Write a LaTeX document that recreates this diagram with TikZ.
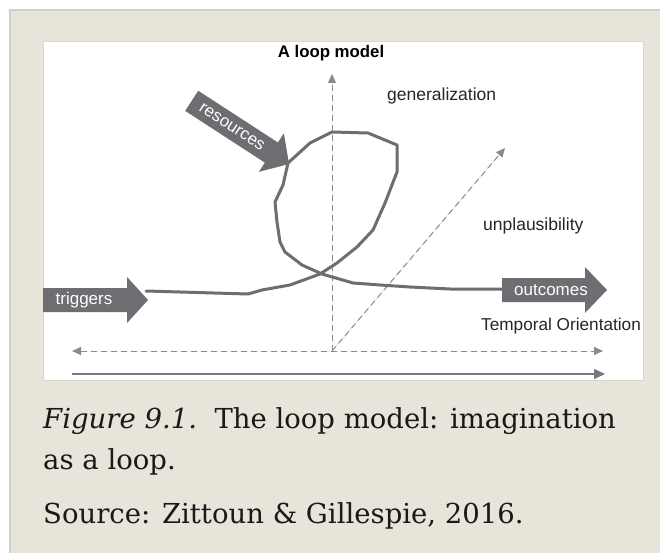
\documentclass[tikz,border=0pt]{standalone}
\usepackage{fontspec}
\setmainfont{DejaVu Serif}
\newfontfamily\labelfont{Liberation Sans}
\usetikzlibrary{arrows.meta}
\definecolor{beige}{HTML}{E7E4DA}
\definecolor{outerline}{HTML}{CFCFCF}
\definecolor{innerline}{HTML}{D6D6D6}
\definecolor{arrowgray}{HTML}{6D6E71}
\definecolor{axisgray}{HTML}{8A8A8A}
\definecolor{solidgray}{HTML}{77787B}
\tikzset{
  fatarrow/.style={fill=arrowgray, draw=none},
  arrowlabel/.style={text=white, font=\labelfont\fontsize{17}{19}\selectfont, inner sep=0pt},
  axislabel/.style={text=black!85, font=\labelfont\fontsize{17.5}{19}\selectfont, inner sep=0pt},
  dashaxis/.style={draw=axisgray, line width=1pt, dash pattern=on 6pt off 4pt},
  axtip/.style={-{Triangle[length=9pt,width=8pt]}},
  loopline/.style={draw=arrowgray, line width=3pt, line join=round, line cap=round},
  caption/.style={anchor=base west, inner sep=0pt, font=\fontsize{27.5}{32}\selectfont, text=black!90}
}
\begin{document}
\begin{tikzpicture}[x=1pt,y=-1pt]
\useasboundingbox (0,0) rectangle (660,553);
\fill[white] (0,0) rectangle (660,553);
% outer panel
\fill[beige] (10,10) rectangle (662,555);
\draw[outerline, line width=2pt] (10,556) -- (10,10) -- (662,10);
% inner figure
\fill[white] (43,42) rectangle (643,380);
\draw[innerline, line width=1pt] (43,42) rectangle (643,380);

% axes
\coordinate (origin) at (332,351);
\coordinate (left) at (72,351);
\coordinate (right) at (603,351);
\coordinate (up) at (332,74);
\coordinate (diag) at (505,148);
\coordinate (sl) at (72,374);
\coordinate (sr) at (605,374);
\draw[dashaxis, {Triangle[length=9pt,width=8pt]}-{Triangle[length=9pt,width=8pt]}, fill=axisgray] (left) -- (right);
\draw[dashaxis, axtip, fill=axisgray] (origin) -- (up);
\draw[dashaxis, axtip, fill=axisgray] (origin) -- (diag);
\draw[solidgray, line width=1.5pt, -{Triangle[length=11pt,width=10pt]}] (sl) -- (sr);

% labels
\node[font=\labelfont\bfseries\fontsize{16.8}{19}\selectfont, inner sep=0pt] (title) at (331,53) {A loop model};
\node[axislabel, anchor=west] (gen) at (387,96) {generalization};
\node[axislabel, anchor=west] (unp) at (483,226) {unplausibility};
\node[axislabel, anchor=west, font=\labelfont\fontsize{17.2}{19}\selectfont] (temp) at (481,326) {Temporal Orientation};

% loop curve
\coordinate (cstart) at (146,291);
\coordinate (cend) at (505,289);
\draw[loopline] (cstart) -- (248,294) -- (262,290) -- (290,285) -- (320,274) -- (337,263)
  -- (357,247) -- (373,230) -- (385,203) -- (397,172) -- (397,145) -- (368,133)
  -- (332,132) -- (310,143) -- (288,163) -- (283,185) -- (275,202) -- (277,222)
  -- (280,242) -- (285,252) -- (302,265) -- (322,274) -- (353,283) -- (380,285)
  -- (410,287) -- (450,289) -- (cend);

% triggers arrow
\fill[fatarrow] (43,288) -- (127,288) -- (127,277) -- (148,300) -- (127,323) -- (127,312) -- (43,312) -- cycle;
\node[arrowlabel] (trig) at (84,300) {triggers};
% outcomes arrow
\fill[fatarrow] (502,278) -- (585,278) -- (585,267) -- (607,290) -- (585,313) -- (585,302) -- (502,302) -- cycle;
\node[arrowlabel] (outc) at (551,290) {outcomes};
% resources arrow
\begin{scope}[shift={(289,164)}, rotate=-33]
\fill[fatarrow] (0,0) -- (-21,23) -- (-21,12) -- (-116,12) -- (-116,-12) -- (-21,-12) -- (-21,-23) -- cycle;
\node[arrowlabel, rotate=-33] (res) at (-68,0) {resources};
\end{scope}

% caption
\node[caption] (cap1) at (43,428) {\textit{Figure 9.1.}\ \ The loop model: imagination};
\node[caption] (cap2) at (43,469) {as a loop.};
\node[caption] (cap3) at (43,523) {Source: Zittoun \& Gillespie, 2016.};
\end{tikzpicture}
\end{document}
